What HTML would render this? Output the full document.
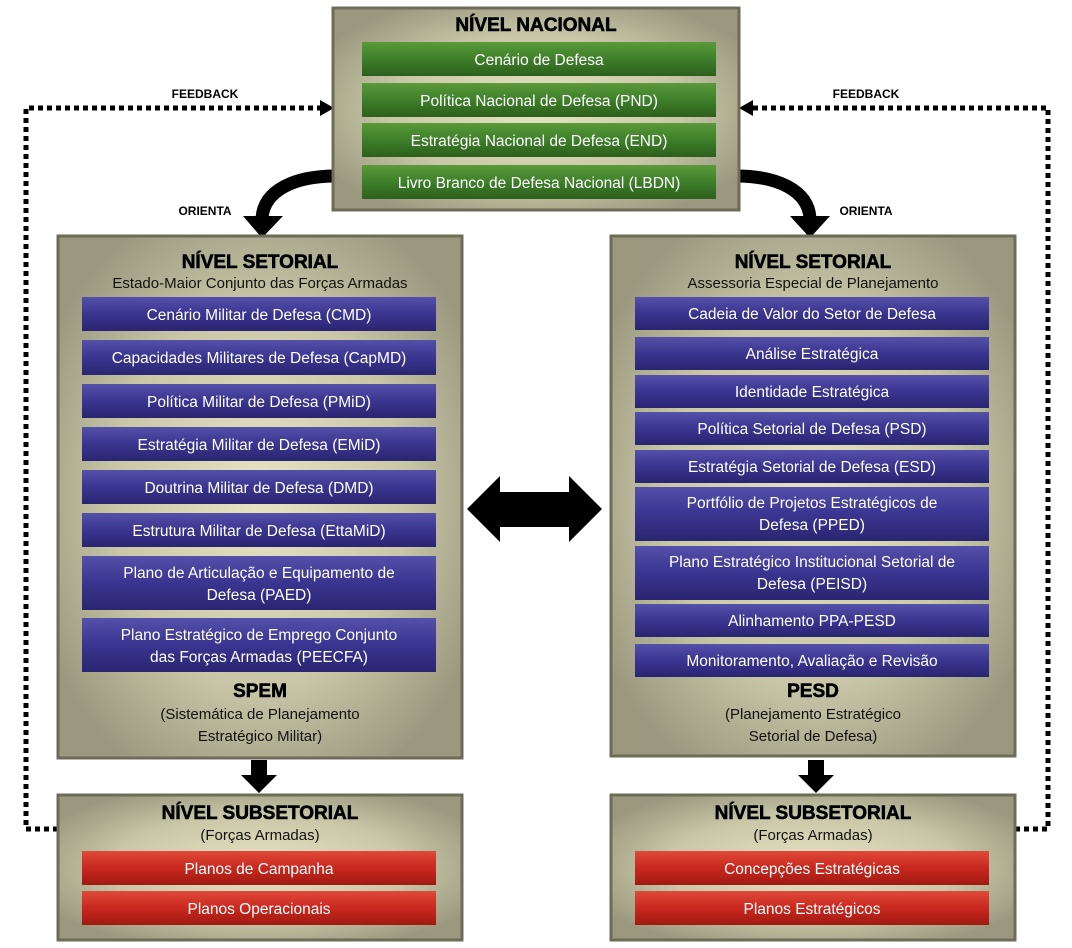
<!DOCTYPE html>
<html><head><meta charset="utf-8"><style>
html,body{margin:0;padding:0;background:#fff;}
svg{display:block;}
text{font-family:"Liberation Sans",sans-serif;}
.t{font-weight:bold;font-size:19px;fill:#000;text-anchor:middle;stroke:#000;stroke-width:0.6px;}
.s{font-size:15px;fill:#111;text-anchor:middle;}
.b{font-size:15.5px;fill:#fff;text-anchor:middle;}
.l{font-weight:bold;font-size:12px;fill:#000;text-anchor:middle;}
</style></head><body>
<svg width="1072" height="948" viewBox="0 0 1072 948" xmlns="http://www.w3.org/2000/svg">
<defs>
<radialGradient id="bg" cx="50%" cy="50%" r="60%">
<stop offset="0" stop-color="#e6e4c4"/><stop offset="0.6" stop-color="#c9c7a8"/><stop offset="1" stop-color="#9a987e"/>
</radialGradient>
<linearGradient id="gr" x1="0" y1="0" x2="0" y2="1"><stop offset="0" stop-color="#5a9a3a"/><stop offset="0.5" stop-color="#3e7f2a"/><stop offset="1" stop-color="#2c5f1c"/></linearGradient>
<linearGradient id="pu" x1="0" y1="0" x2="0" y2="1"><stop offset="0" stop-color="#5550a8"/><stop offset="0.5" stop-color="#3a3590"/><stop offset="1" stop-color="#2a2570"/></linearGradient>
<linearGradient id="re" x1="0" y1="0" x2="0" y2="1"><stop offset="0" stop-color="#e04a3a"/><stop offset="0.5" stop-color="#c8281e"/><stop offset="1" stop-color="#a01a12"/></linearGradient>
</defs>

<!-- feedback dotted lines -->
<path d="M58 829 H26 V108 H322" fill="none" stroke="#000" stroke-width="5" stroke-dasharray="5,4"/>
<polygon points="320,100 334,108 320,116" fill="#000"/>
<path d="M1015 829 H1048 V108 H752" fill="none" stroke="#000" stroke-width="5" stroke-dasharray="5,4"/>
<polygon points="753,100 739,108 753,116" fill="#000"/>
<text class="l" x="205" y="98">FEEDBACK</text>
<text class="l" x="866" y="98">FEEDBACK</text>

<!-- curved arrows -->
<path d="M336 176 C295 176 264 190 262 218" fill="none" stroke="#000" stroke-width="13"/>
<polygon points="243,216 283,216 262,238" fill="#000"/>
<path d="M736 176 C777 176 808 190 810 218" fill="none" stroke="#000" stroke-width="13"/>
<polygon points="790,216 830,216 810,238" fill="#000"/>
<text class="l" x="205" y="215">ORIENTA</text>
<text class="l" x="866" y="215">ORIENTA</text>

<!-- national -->
<rect x="333" y="8" width="406" height="202" fill="url(#bg)" stroke="#6e6c58" stroke-width="3"/>
<text class="t" x="536" y="31">NÍVEL NACIONAL</text>
<rect x="362" y="42" width="354" height="34" fill="url(#gr)"/><text class="b" x="539" y="65">Cenário de Defesa</text>
<rect x="362" y="83" width="354" height="34" fill="url(#gr)"/><text class="b" x="539" y="106">Política Nacional de Defesa (PND)</text>
<rect x="362" y="123" width="354" height="34" fill="url(#gr)"/><text class="b" x="539" y="146">Estratégia Nacional de Defesa (END)</text>
<rect x="362" y="165" width="354" height="34" fill="url(#gr)"/><text class="b" x="539" y="188">Livro Branco de Defesa Nacional (LBDN)</text>

<!-- left setorial -->
<rect x="58" y="236" width="404" height="522" fill="url(#bg)" stroke="#6e6c58" stroke-width="3"/>
<text class="t" x="260" y="268">NÍVEL SETORIAL</text>
<text class="s" x="260" y="288">Estado-Maior Conjunto das Forças Armadas</text>
<g>
<rect x="82" y="297" width="354" height="34" fill="url(#pu)"/><text class="b" x="259" y="320">Cenário Militar de Defesa (CMD)</text>
<rect x="82" y="340" width="354" height="35" fill="url(#pu)"/><text class="b" x="259" y="363">Capacidades Militares de Defesa (CapMD)</text>
<rect x="82" y="384" width="354" height="34" fill="url(#pu)"/><text class="b" x="259" y="407">Política Militar de Defesa (PMiD)</text>
<rect x="82" y="427" width="354" height="34" fill="url(#pu)"/><text class="b" x="259" y="450">Estratégia Militar de Defesa (EMiD)</text>
<rect x="82" y="470" width="354" height="34" fill="url(#pu)"/><text class="b" x="259" y="493">Doutrina Militar de Defesa (DMD)</text>
<rect x="82" y="513" width="354" height="34" fill="url(#pu)"/><text class="b" x="259" y="536">Estrutura Militar de Defesa (EttaMiD)</text>
<rect x="82" y="556" width="354" height="54" fill="url(#pu)"/><text class="b" x="259" y="578">Plano de Articulação e Equipamento de</text><text class="b" x="259" y="600">Defesa (PAED)</text>
<rect x="82" y="618" width="354" height="54" fill="url(#pu)"/><text class="b" x="259" y="640">Plano Estratégico de Emprego Conjunto</text><text class="b" x="259" y="662">das Forças Armadas (PEECFA)</text>
</g>
<text class="t" x="260" y="697">SPEM</text>
<text class="s" x="260" y="719">(Sistemática de Planejamento</text>
<text class="s" x="260" y="741">Estratégico Militar)</text>

<!-- right setorial -->
<rect x="611" y="236" width="404" height="520" fill="url(#bg)" stroke="#6e6c58" stroke-width="3"/>
<text class="t" x="813" y="268">NÍVEL SETORIAL</text>
<text class="s" x="813" y="288">Assessoria Especial de Planejamento</text>
<rect x="635" y="297" width="354" height="33" fill="url(#pu)"/><text class="b" x="812" y="319">Cadeia de Valor do Setor de Defesa</text>
<rect x="635" y="337" width="354" height="33" fill="url(#pu)"/><text class="b" x="812" y="359">Análise Estratégica</text>
<rect x="635" y="375" width="354" height="33" fill="url(#pu)"/><text class="b" x="812" y="397">Identidade Estratégica</text>
<rect x="635" y="412" width="354" height="33" fill="url(#pu)"/><text class="b" x="812" y="434">Política Setorial de Defesa (PSD)</text>
<rect x="635" y="450" width="354" height="33" fill="url(#pu)"/><text class="b" x="812" y="472">Estratégia Setorial de Defesa (ESD)</text>
<rect x="635" y="487" width="354" height="54" fill="url(#pu)"/><text class="b" x="812" y="508">Portfólio de Projetos Estratégicos de</text><text class="b" x="812" y="530">Defesa (PPED)</text>
<rect x="635" y="546" width="354" height="54" fill="url(#pu)"/><text class="b" x="812" y="567">Plano Estratégico Institucional Setorial de</text><text class="b" x="812" y="589">Defesa (PEISD)</text>
<rect x="635" y="604" width="354" height="33" fill="url(#pu)"/><text class="b" x="812" y="626">Alinhamento PPA-PESD</text>
<rect x="635" y="644" width="354" height="33" fill="url(#pu)"/><text class="b" x="812" y="666">Monitoramento, Avaliação e Revisão</text>
<text class="t" x="813" y="697">PESD</text>
<text class="s" x="813" y="719">(Planejamento Estratégico</text>
<text class="s" x="813" y="741">Setorial de Defesa)</text>

<!-- double arrow -->
<polygon points="467,509 500,476 500,492 569,492 569,476 602,509 569,542 569,527 500,527 500,542" fill="#000"/>

<!-- down arrows -->
<polygon points="251,760 267,760 267,775 277,775 259,793 241,775 251,775" fill="#000"/>
<polygon points="808,760 824,760 824,775 834,775 816,793 798,775 808,775" fill="#000"/>

<!-- subsetorial -->
<rect x="58" y="795" width="404" height="145" fill="url(#bg)" stroke="#6e6c58" stroke-width="3"/>
<text class="t" x="260" y="819">NÍVEL SUBSETORIAL</text>
<text class="s" x="260" y="840">(Forças Armadas)</text>
<rect x="82" y="851" width="354" height="34" fill="url(#re)"/><text class="b" x="259" y="874">Planos de Campanha</text>
<rect x="82" y="891" width="354" height="34" fill="url(#re)"/><text class="b" x="259" y="914">Planos Operacionais</text>

<rect x="611" y="795" width="404" height="145" fill="url(#bg)" stroke="#6e6c58" stroke-width="3"/>
<text class="t" x="813" y="819">NÍVEL SUBSETORIAL</text>
<text class="s" x="813" y="840">(Forças Armadas)</text>
<rect x="635" y="851" width="354" height="34" fill="url(#re)"/><text class="b" x="812" y="874">Concepções Estratégicas</text>
<rect x="635" y="891" width="354" height="34" fill="url(#re)"/><text class="b" x="812" y="914">Planos Estratégicos</text>
</svg>
</body></html>
